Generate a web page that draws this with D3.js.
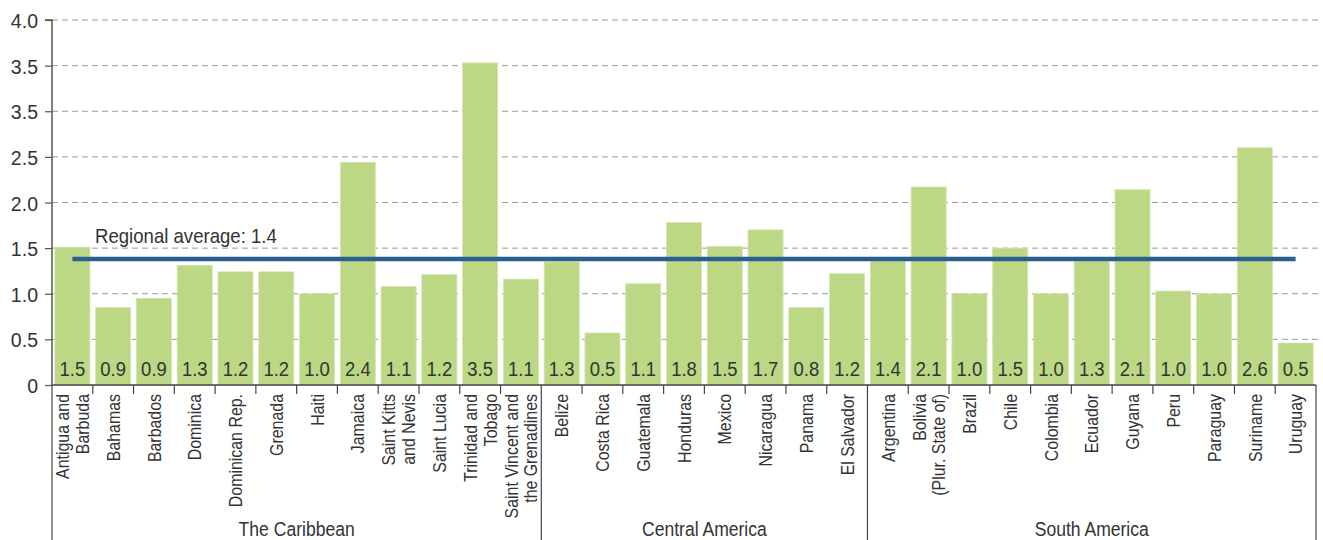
<!DOCTYPE html>
<html><head><meta charset="utf-8">
<script src="https://cdn.jsdelivr.net/npm/d3@7"></script>
<style>
body{margin:0;background:#fff;}
text{font-family:"Liberation Sans",Arial,sans-serif;fill:#333;}
</style></head>
<body>
<svg id="chart" width="1323" height="540"></svg>
<script>
const countries = ["Antigua and|Barbuda","Bahamas","Barbados","Dominica","Dominican Rep.","Grenada","Haiti","Jamaica","Saint Kitts|and Nevis","Saint Lucia","Trinidad and|Tobago","Saint Vincent and|the Grenadines",
 "Belize","Costa Rica","Guatemala","Honduras","Mexico","Nicaragua","Panama","El Salvador",
 "Argentina","Bolivia|(Plur. State of)","Brazil","Chile","Colombia","Ecuador","Guyana","Peru","Paraguay","Suriname","Uruguay"];
const values = [1.51,0.85,0.95,1.31,1.24,1.24,1.0,2.44,1.08,1.21,3.53,1.16,
 1.35,0.57,1.11,1.78,1.52,1.70,0.85,1.22,
 1.36,2.17,1.0,1.50,1.0,1.36,2.14,1.03,1.0,2.60,0.46];
const valueLabels = ["1.5","0.9","0.9","1.3","1.2","1.2","1.0","2.4","1.1","1.2","3.5","1.1",
 "1.3","0.5","1.1","1.8","1.5","1.7","0.8","1.2",
 "1.4","2.1","1.0","1.5","1.0","1.3","2.1","1.0","1.0","2.6","0.5"];
const groups = ["The Caribbean","Central America","South America"];
const groupSizes = [12,8,11];
const yTicks = [0,0.5,1.0,1.5,2.0,2.5,3.0,3.5,4.0];
const yTickLabels = ["0","0.5","1.0","1.5","2.0","2.5","3.5","3.5","4.0"];
const regionalAverage = 1.38;
const averageLabel = "Regional average: 1.4";

(function(){
const svg = d3.select("#chart");
const mLeft = 52, mRight = 1316, mTop = 20, mBottom = 385;
const x = d3.scaleBand().domain(d3.range(countries.length)).range([mLeft, mRight]).paddingInner(0.14).paddingOuter(0.07);
const y = d3.scaleLinear().domain([0,4]).range([mBottom, mTop]);
const TXT = 0.86, NUM = 0.9;

svg.append("g").selectAll("line").data(yTicks.filter(d=>d>0)).join("line")
  .attr("x1", mLeft).attr("x2", 1318)
  .attr("y1", d=>y(d)).attr("y2", d=>y(d))
  .attr("stroke", "#9a9a9a").attr("stroke-width", 1).attr("stroke-dasharray", "6,4");

svg.append("g").selectAll("rect").data(values).join("rect")
  .attr("x", (d,i)=>x(i)).attr("width", x.bandwidth())
  .attr("y", d=>y(d)).attr("height", d=>mBottom - y(d))
  .attr("fill", "#bcd885").attr("stroke","#d3e6b0").attr("stroke-width",0.8);

svg.append("g").selectAll("text").data(valueLabels).join("text")
  .attr("transform", (d,i)=>`translate(${x(i)+x.bandwidth()/2},375.5) scale(${NUM},1)`)
  .attr("text-anchor","middle").style("font-size","20.5px").text(d=>d);

const step = x.step();
svg.append("line")
  .attr("x1", x(0)+x.bandwidth()/2).attr("x2", x(countries.length-1)+x.bandwidth()/2)
  .attr("y1", y(regionalAverage)).attr("y2", y(regionalAverage))
  .attr("stroke","#2c5f91").attr("stroke-width",4.5);
svg.append("text").attr("transform", `translate(95,243) scale(0.93,1)`)
  .style("font-size","20px").text(averageLabel);

const yAxis = d3.axisLeft(y).tickValues(yTicks).tickFormat((d,i)=>yTickLabels[i]).tickSize(7).tickPadding(5);
const gy = svg.append("g").attr("transform",`translate(${mLeft},0)`).call(yAxis);
gy.select(".domain").attr("stroke","#555").attr("stroke-width",1.5).attr("d",`M-7,${mTop}H0V${mBottom}`);
gy.selectAll(".tick line").attr("stroke","#555").attr("stroke-width",1.2);
gy.selectAll(".tick text")
  .attr("x",0).attr("dy","0.36em")
  .attr("transform",`translate(-14,0) scale(0.93,1)`)
  .style("font-size","21px").style("font-family",'"Liberation Sans",Arial,sans-serif').attr("fill","#333");

svg.append("line").attr("x1",mLeft).attr("x2",mRight).attr("y1",mBottom).attr("y2",mBottom).attr("stroke","#444").attr("stroke-width",1.5);

const boundaries = d3.range(countries.length+1).map(i=> mLeft + i*step);
const groupStarts = [0]; groupSizes.reduce((a,b)=>{groupStarts.push(a+b); return a+b;},0);
svg.append("g").selectAll("line").data(boundaries).join("line")
  .attr("x1", d=>d).attr("x2", d=>d).attr("y1", mBottom)
  .attr("y2", (d,i)=> groupStarts.includes(i) ? 540 : mBottom+9)
  .attr("stroke","#444").attr("stroke-width",1.2);

const cat = svg.append("g").selectAll("g").data(countries).join("g")
  .attr("transform", (d,i)=>`translate(${x(i)+x.bandwidth()/2},394) rotate(-90) scale(${TXT},1)`);
cat.each(function(d){
  const lines = d.split("|");
  const g = d3.select(this);
  lines.forEach((ln,k)=>{
    g.append("text").attr("x",0).attr("y",(k-(lines.length-1)/2)*19.5)
      .attr("dy","0.36em").attr("text-anchor","end").style("font-size","18.5px").text(ln);
  });
});

svg.append("g").selectAll("text").data(groups).join("text")
  .attr("transform",(d,i)=> `translate(${(boundaries[groupStarts[i]] + boundaries[groupStarts[i+1]])/2},535.5) scale(0.9,1)`)
  .attr("text-anchor","middle").style("font-size","19.5px").text(d=>d);
})();
</script>
</body></html>
